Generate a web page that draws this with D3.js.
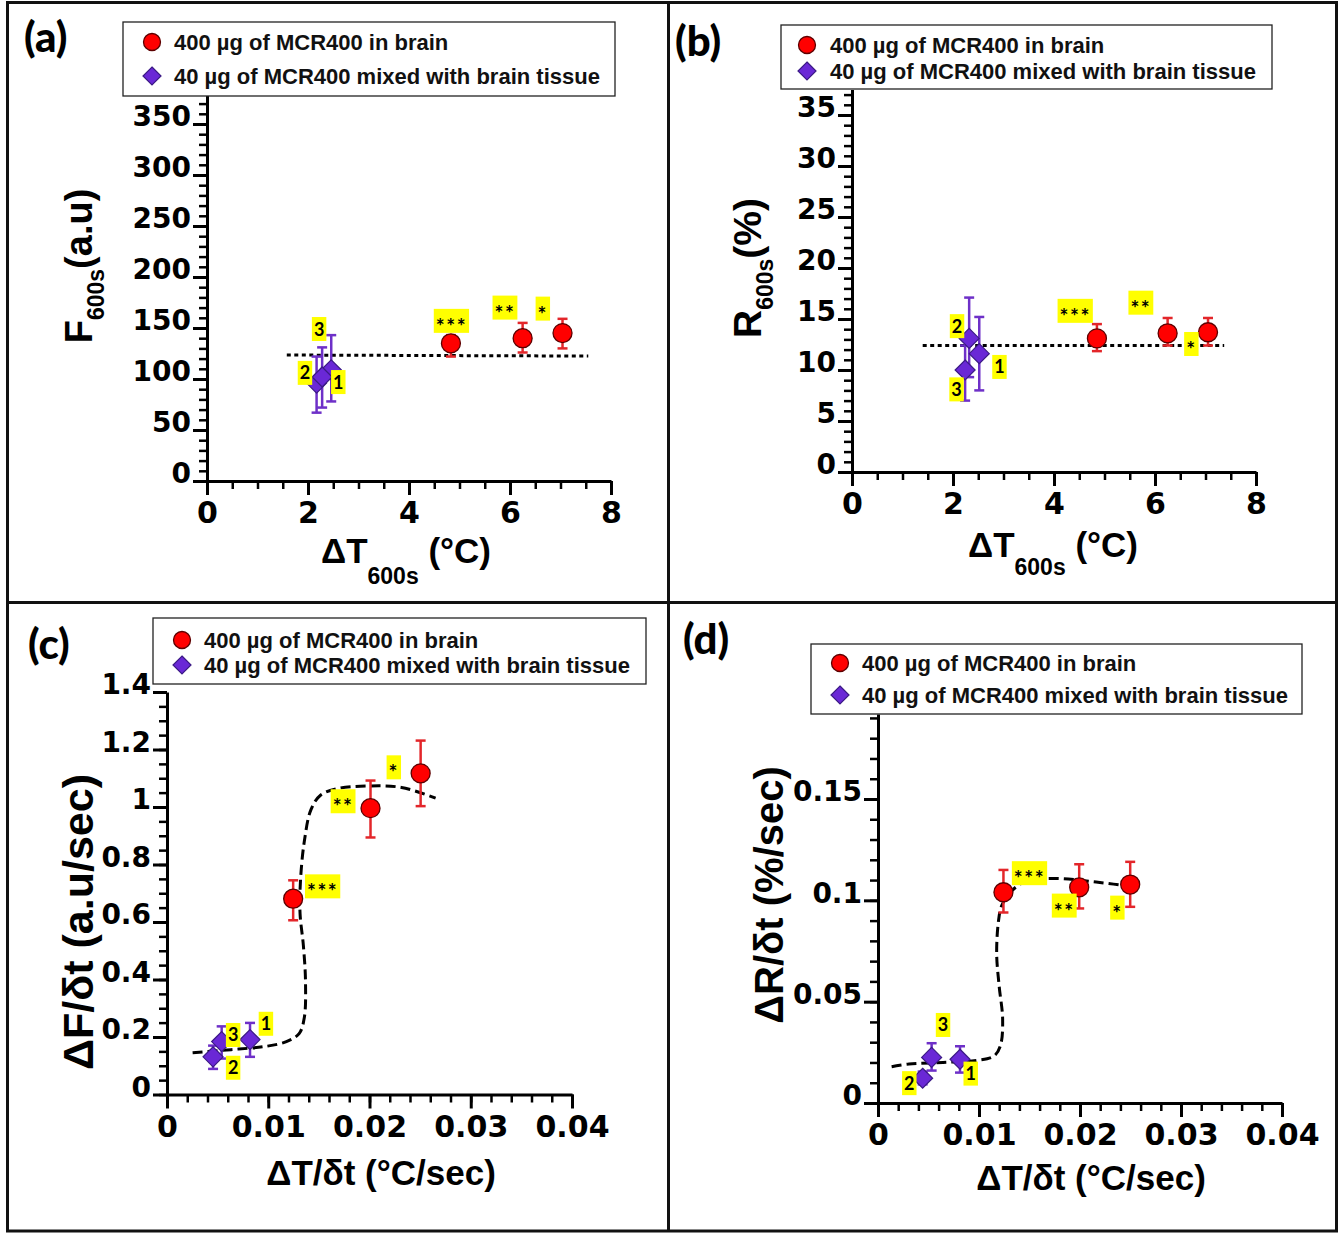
<!DOCTYPE html>
<html>
<head>
<meta charset="utf-8">
<script src="https://cdn.jsdelivr.net/npm/d3@7"></script>
<style>body{margin:0;background:#fff}</style>
</head>
<body>
<svg id="fig" width="1340" height="1233"></svg>
<script>
// legend entries
const seriesNames = ["400 µg of MCR400 in brain", "40 µg of MCR400 mixed with brain tissue"];

// (a) F600s vs dT600s
const aBrainX = [4.83, 6.25, 7.04];
const aBrainY = [135, 140, 145];
const aBrainLo = [122, 126, 130];
const aBrainHi = [143, 155, 159];
const aMixX = [2.46, 2.17, 2.28];          // samples 1, 2, 3
const aMixY = [109, 96, 102];
const aMixLo = [78, 67, 72];
const aMixHi = [143, 122, 131];
const aFitX = [1.58, 7.55];
const aFitY = [123.5, 122.5];
const aNoteText = ["1", "2", "3", "***", "**", "*"];
const aNoteX = [2.6, 1.94, 2.22, 4.84, 5.9, 6.65];
const aNoteY = [97, 106, 149, 157, 170, 169];

// (b) R600s vs dT600s
const bBrainX = [4.85, 6.25, 7.05];
const bBrainY = [13.1, 13.6, 13.7];
const bBrainLo = [11.85, 12.4, 12.4];
const bBrainHi = [14.5, 15.1, 15.1];
const bMixX = [2.52, 2.32, 2.24];
const bMixY = [11.6, 13.1, 10.0];
const bMixLo = [8.0, 9.3, 7.0];
const bMixHi = [15.2, 17.1, 12.4];
const bFitX = [1.4, 7.37];
const bFitY = [12.4, 12.4];
const bNoteX = [2.92, 2.08, 2.07, 4.42, 5.72, 6.72];
const bNoteY = [10.3, 14.3, 8.1, 15.8, 16.6, 12.55];

// (c) dF/dt vs dT/dt
const cBrainX = [0.01246, 0.0201, 0.02505];
const cBrainY = [0.681, 0.996, 1.117];
const cBrainLo = [0.606, 0.894, 1.003];
const cBrainHi = [0.745, 1.092, 1.231];
const cMixX = [0.0082, 0.00455, 0.0054];
const cMixY = [0.191, 0.131, 0.184];
const cMixLo = [0.131, 0.089, 0.125];
const cMixHi = [0.249, 0.170, 0.237];
const cFitX = [0.00253, 0.00632, 0.00968, 0.01179, 0.01305, 0.01356, 0.01368, 0.01347, 0.01314,
  0.01318, 0.01356, 0.01423, 0.01516, 0.01684, 0.01979, 0.02316, 0.02653];
const cFitY = [0.145, 0.156, 0.167, 0.184, 0.212, 0.267, 0.393, 0.518, 0.630,
  0.741, 0.880, 0.992, 1.041, 1.064, 1.073, 1.068, 1.031];
const cNoteX = [0.00977, 0.00653, 0.00653, 0.01537, 0.01739, 0.0224];
const cNoteY = [0.246, 0.093, 0.207, 0.724, 1.02, 1.138];

// (d) dR/dt vs dT/dt
const dBrainX = [0.01242, 0.01992, 0.02497];
const dBrainY = [0.104, 0.1064, 0.1078];
const dBrainLo = [0.094, 0.096, 0.0968];
const dBrainHi = [0.115, 0.1178, 0.119];
const dMixX = [0.00812, 0.00442, 0.00531];
const dMixY = [0.0216, 0.0122, 0.0225];
const dMixLo = [0.015, 0.0092, 0.016];
const dMixHi = [0.028, 0.0155, 0.0295];
const dFitX = [0.00135, 0.00307, 0.00644, 0.00981, 0.01149, 0.01213, 0.01234, 0.0120, 0.01175,
  0.01192, 0.01225, 0.01318, 0.01465, 0.01739, 0.0216, 0.02581];
const dFitY = [0.0179, 0.0192, 0.0200, 0.0210, 0.0232, 0.0285, 0.0415, 0.0575, 0.0735,
  0.0894, 0.0974, 0.1044, 0.1094, 0.1108, 0.1090, 0.1064];
const dNoteX = [0.00918, 0.0031, 0.00644, 0.015, 0.01844, 0.0237];
const dNoteY = [0.0145, 0.0098, 0.0385, 0.1134, 0.0974, 0.0964];

const RED = "#ff0000", RED_BAR = "#e3262a", PURPLE = "#6a28d6", PURPLE_BAR = "#6e30c8";
const tickFont = "'DejaVu Sans', sans-serif";
const titleFont = "'Liberation Sans', Arial, sans-serif";
const noteFont = "Lato, 'Open Sans', sans-serif";
const numFmt = d => String(+d.toFixed(4));

const svg = d3.select("#fig");
svg.append("rect").attr("width", 1340).attr("height", 1233).attr("fill", "#fff");

const panels = [
  {
    tag: "(a)", tagX: 24, tagY: 52,
    xPix: [207, 611], yPix: [481, 124], xMax: 8, yRef: 350, yTop: 380,
    xMajor: d3.range(0, 8.01, 2), xMinor: d3.range(0, 8.01, 0.5),
    yMajor: d3.range(0, 351, 50), yMinor: d3.range(0, 371, 10),
    legend: { x: 123, y: 22, w: 492, h: 74, r1: 42, r2: 76, mx: 152, tx: 174 },
    brain: [aBrainX, aBrainY, aBrainLo, aBrainHi], mix: [aMixX, aMixY, aMixLo, aMixHi],
    fit: [aFitX, aFitY], dotted: true, notes: [aNoteX, aNoteY],
    xTitle: { x: 406, y: 563, size: 35, main: "ΔT", sub: "600s", rest: " (°C)", subDy: 21 },
    yTitle: { x: 92, y: 266, size: 38, main: "F", sub: "600s", rest: "(a.u)", subDy: 12 }
  },
  {
    tag: "(b)", tagX: 675, tagY: 56,
    xPix: [852, 1256], yPix: [472, 115], xMax: 8, yRef: 35, yTop: 37.5,
    xMajor: d3.range(0, 8.01, 2), xMinor: d3.range(0, 8.01, 0.5),
    yMajor: d3.range(0, 35.1, 5), yMinor: d3.range(0, 37.1, 1),
    legend: { x: 781, y: 25, w: 491, h: 64, r1: 45, r2: 71, mx: 807, tx: 830 },
    brain: [bBrainX, bBrainY, bBrainLo, bBrainHi], mix: [bMixX, bMixY, bMixLo, bMixHi],
    fit: [bFitX, bFitY], dotted: true, notes: [bNoteX, bNoteY],
    xTitle: { x: 1053, y: 557, size: 35, main: "ΔT", sub: "600s", rest: " (°C)", subDy: 18 },
    yTitle: { x: 761, y: 268, size: 39, main: "R", sub: "600s", rest: "(%)", subDy: 12 }
  },
  {
    tag: "(c)", tagX: 28, tagY: 659,
    xPix: [167, 572], yPix: [1094.5, 692], xMax: 0.04, yRef: 1.4, yTop: 1.4,
    xMajor: d3.range(0, 0.0401, 0.01), xMinor: d3.range(0, 0.0401, 0.002),
    yMajor: d3.range(0, 1.41, 0.2), yMinor: d3.range(0, 1.41, 0.05),
    legend: { x: 153, y: 618, w: 493, h: 66, r1: 640, r2: 665, mx: 182, tx: 204 },
    brain: [cBrainX, cBrainY, cBrainLo, cBrainHi], mix: [cMixX, cMixY, cMixLo, cMixHi],
    fit: [cFitX, cFitY], dotted: false, notes: [cNoteX, cNoteY],
    xTitle: { x: 381, y: 1185, size: 35, main: "ΔT/δt (°C/sec)" },
    yTitle: { x: 93, y: 922, size: 43, main: "ΔF/δt (a.u/sec)" }
  },
  {
    tag: "(d)", tagX: 683, tagY: 654,
    xPix: [878, 1282], yPix: [1103, 799], xMax: 0.04, yRef: 0.15, yTop: 0.192,
    xMajor: d3.range(0, 0.0401, 0.01), xMinor: d3.range(0, 0.0401, 0.002),
    yMajor: d3.range(0, 0.151, 0.05), yMinor: d3.range(0, 0.1901, 0.01),
    legend: { x: 811, y: 644, w: 491, h: 70, r1: 663, r2: 695, mx: 840, tx: 862 },
    brain: [dBrainX, dBrainY, dBrainLo, dBrainHi], mix: [dMixX, dMixY, dMixLo, dMixHi],
    fit: [dFitX, dFitY], dotted: false, notes: [dNoteX, dNoteY],
    xTitle: { x: 1091, y: 1190, size: 35, main: "ΔT/δt (°C/sec)" },
    yTitle: { x: 783, y: 895, size: 40, main: "ΔR/δt (%/sec)" }
  }
];

const diamond = h => `M0,${-h}L${h},0L0,${h}L${-h},0Z`;

function styleAxis(sel, w) {
  sel.selectAll("path, line").attr("stroke", "#000").attr("stroke-width", w);
}

function addTitle(g, t, rotate) {
  const txt = g.append("text")
    .attr("transform", rotate ? `translate(${t.x},${t.y}) rotate(-90)` : `translate(${t.x},${t.y})`)
    .attr("text-anchor", "middle")
    .attr("font-family", titleFont).attr("font-weight", "bold")
    .attr("font-size", t.size).attr("fill", "#000");
  txt.append("tspan").text(t.main);
  if (t.sub) {
    txt.append("tspan").attr("font-size", 23).attr("dy", t.subDy).text(t.sub);
    txt.append("tspan").attr("dy", -t.subDy).text(t.rest);
  }
}

function drawPanel(p) {
  const g = svg.append("g");
  const x = d3.scaleLinear().domain([0, p.xMax]).range(p.xPix);
  const y = d3.scaleLinear().domain([0, p.yRef]).range(p.yPix);
  const yAx = d3.scaleLinear().domain([0, p.yTop]).range([p.yPix[0], y(p.yTop)]);
  const x0 = p.xPix[0], y0 = p.yPix[0];

  // minor ticks
  g.append("g").attr("transform", `translate(${x0},0)`)
    .call(d3.axisLeft(yAx).tickValues(p.yMinor).tickSize(8).tickFormat(""))
    .call(s => s.select(".domain").remove())
    .call(s => styleAxis(s, 2.5));
  g.append("g").attr("transform", `translate(0,${y0})`)
    .call(d3.axisBottom(x).tickValues(p.xMinor).tickSize(8).tickFormat(""))
    .call(s => s.select(".domain").remove())
    .call(s => styleAxis(s, 2.5));

  // major ticks + axis lines
  const ya = g.append("g").attr("transform", `translate(${x0},0)`)
    .call(d3.axisLeft(yAx).tickValues(p.yMajor).tickSize(14).tickSizeOuter(0).tickPadding(2).tickFormat(numFmt));
  styleAxis(ya, 3);
  ya.selectAll("text").attr("font-family", tickFont).attr("font-weight", "bold")
    .attr("font-size", 28).attr("dy", "0.06em").attr("fill", "#000");

  const xa = g.append("g").attr("transform", `translate(0,${y0})`)
    .call(d3.axisBottom(x).tickValues(p.xMajor).tickSize(14).tickSizeOuter(0).tickPadding(7).tickFormat(numFmt));
  styleAxis(xa, 3);
  xa.selectAll("text").attr("font-family", tickFont).attr("font-weight", "bold")
    .attr("font-size", 30).attr("fill", "#000");

  addTitle(g, p.xTitle, false);
  addTitle(g, p.yTitle, true);

  // fit / guide line
  const [fx, fy] = p.fit;
  const line = d3.line().x(i => x(fx[i])).y(i => y(fy[i]))
    .curve(p.dotted ? d3.curveLinear : d3.curveCatmullRom.alpha(0.5));
  g.append("path").attr("d", line(d3.range(fx.length)))
    .attr("fill", "none").attr("stroke", "#000").attr("stroke-width", 3)
    .attr("stroke-dasharray", p.dotted ? "4,3.5" : "10,5");

  // error bars + markers
  function series(arr, barColor, isMix) {
    const [sx, sy, lo, hi] = arr;
    const idx = d3.range(sx.length);
    const eb = g.append("g").attr("stroke", barColor).attr("stroke-width", 2.5);
    idx.forEach(i => {
      const cx = x(sx[i]);
      eb.append("line").attr("x1", cx).attr("x2", cx).attr("y1", y(lo[i])).attr("y2", y(hi[i]));
      eb.append("line").attr("x1", cx - 5).attr("x2", cx + 5).attr("y1", y(lo[i])).attr("y2", y(lo[i]));
      eb.append("line").attr("x1", cx - 5).attr("x2", cx + 5).attr("y1", y(hi[i])).attr("y2", y(hi[i]));
    });
    if (isMix) {
      g.selectAll(null).data(idx).enter().append("path")
        .attr("d", diamond(10))
        .attr("transform", i => `translate(${x(sx[i])},${y(sy[i])})`)
        .attr("fill", PURPLE).attr("stroke", "#3b1a85").attr("stroke-width", 1.2);
    } else {
      g.selectAll(null).data(idx).enter().append("circle")
        .attr("cx", i => x(sx[i])).attr("cy", i => y(sy[i])).attr("r", 9.5)
        .attr("fill", RED).attr("stroke", "#5c0000").attr("stroke-width", 1.3);
    }
  }
  series(p.mix, PURPLE_BAR, true);
  series(p.brain, RED_BAR, false);

  // yellow significance / sample labels
  const [nx, ny] = p.notes;
  aNoteText.forEach((t, i) => {
    const star = t.startsWith("*");
    const ng = g.append("g").attr("transform", `translate(${x(nx[i])},${y(ny[i])})`);
    const r = ng.append("rect").attr("fill", "#ffff00");
    const tx = ng.append("text").attr("text-anchor", "middle")
      .attr("dy", star ? "0.62em" : "0.36em")
      .attr("letter-spacing", star ? 1.5 : 0)
      .attr("font-family", noteFont).attr("font-weight", "bold")
      .attr("font-size", star ? 21 : 18).attr("fill", "#000").text(t);
    const bb = tx.node().getBBox();
    r.attr("x", -bb.width / 2 - 2).attr("y", -12).attr("width", bb.width + 4).attr("height", 24);
  });

  // legend
  const L = p.legend;
  const lg = g.append("g");
  lg.append("rect").attr("x", L.x).attr("y", L.y).attr("width", L.w).attr("height", L.h)
    .attr("fill", "#fff").attr("stroke", "#222").attr("stroke-width", 1.3);
  lg.append("circle").attr("cx", L.mx).attr("cy", L.r1).attr("r", 8.5)
    .attr("fill", RED).attr("stroke", "#5c0000").attr("stroke-width", 1.3);
  lg.append("path").attr("d", diamond(9)).attr("transform", `translate(${L.mx},${L.r2})`)
    .attr("fill", PURPLE).attr("stroke", "#3b1a85").attr("stroke-width", 1.2);
  [L.r1, L.r2].forEach((ry, i) => {
    lg.append("text").attr("x", L.tx).attr("y", ry + 8)
      .attr("font-family", titleFont).attr("font-weight", "bold").attr("font-size", 22)
      .attr("fill", "#111").text(seriesNames[i]);
  });

  // panel tag
  g.append("text").attr("x", p.tagX).attr("y", p.tagY)
    .attr("font-family", noteFont).attr("font-weight", "900")
    .attr("font-size", 42).attr("fill", "#000").text(p.tag);
}

panels.forEach(drawPanel);

// outer frame and dividers
const frame = svg.append("g").attr("fill", "none").attr("stroke", "#111").attr("stroke-width", 3);
frame.append("rect").attr("x", 7.5).attr("y", 2.5).attr("width", 1329).attr("height", 1228.5);
frame.append("line").attr("x1", 668.5).attr("x2", 668.5).attr("y1", 2).attr("y2", 1231);
frame.append("line").attr("x1", 7).attr("x2", 1337).attr("y1", 602.5).attr("y2", 602.5);
</script>
</body>
</html>
